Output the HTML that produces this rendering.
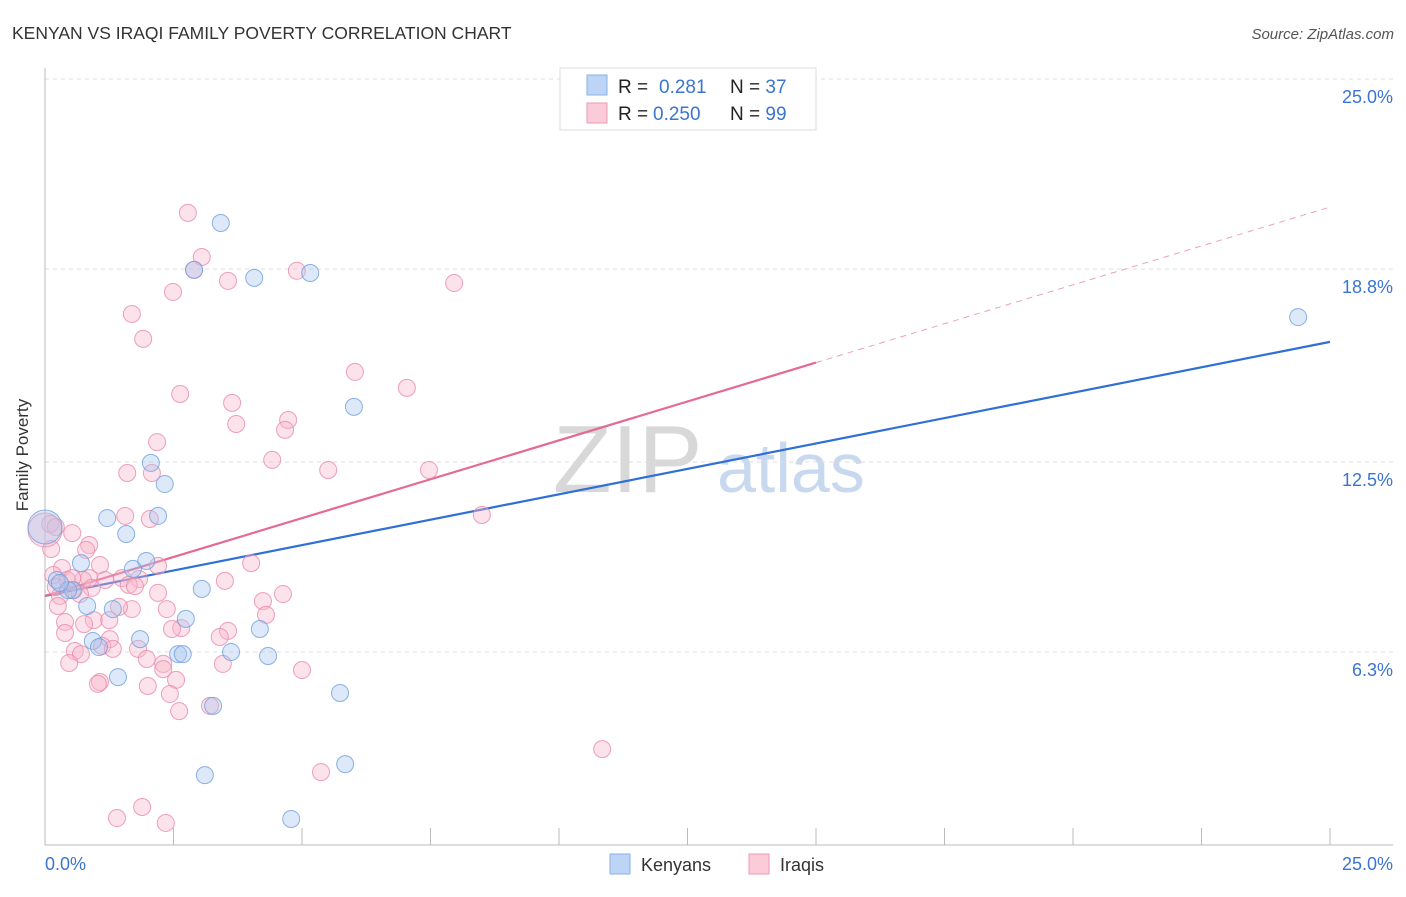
<!DOCTYPE html>
<html><head><meta charset="utf-8"><style>
body{margin:0;background:#fff;width:1406px;height:892px;overflow:hidden;font-family:"Liberation Sans",sans-serif}
svg text{font-family:"Liberation Sans",sans-serif}
</style></head><body>
<svg id="c" width="1406" height="892" xmlns="http://www.w3.org/2000/svg">
<text x="12" y="39" font-size="17.5" fill="#333">KENYAN VS IRAQI FAMILY POVERTY CORRELATION CHART</text>
<text x="1394" y="39" font-size="15" fill="#555" font-style="italic" text-anchor="end">Source: ZipAtlas.com</text>
<g>
<text x="553" y="492" font-size="96" font-family="Liberation Serif" fill="#d8d8d8">ZIP</text>
<text x="717" y="492" font-size="70" fill="#c8d9ef">atlas</text>
</g>
<g id="grid"></g>
<g id="axes"></g>
<g id="lines"></g>
<g id="pts"></g>
<text x="28" y="455" font-size="17" fill="#333" text-anchor="middle" transform="rotate(-90 28 455)">Family Poverty</text>
<g>
<rect x="560" y="68" width="256" height="62" fill="#fff" stroke="#ddd"/>
<rect x="587" y="75" width="20" height="20" fill="#bcd4f5" stroke="#8ab2e8"/>
<rect x="587" y="103" width="20" height="20" fill="#fbcbda" stroke="#ee9ab6"/>
<text x="618" y="93" font-size="19" fill="#222">R = <tspan x="659" fill="#3b74d1">0.281</tspan></text>
<text x="730" y="93" font-size="19" fill="#222">N = <tspan fill="#3b74d1">37</tspan></text>
<text x="618" y="120" font-size="19" fill="#222">R = <tspan x="653" fill="#3b74d1">0.250</tspan></text>
<text x="730" y="120" font-size="19" fill="#222">N = <tspan fill="#3b74d1">99</tspan></text>
</g>
<g>
<rect x="610" y="854" width="20" height="20" fill="#bcd4f5" stroke="#8ab2e8"/>
<text x="641" y="871" font-size="18" fill="#333">Kenyans</text>
<rect x="749" y="854" width="20" height="20" fill="#fbcbda" stroke="#ee9ab6"/>
<text x="780" y="871" font-size="18" fill="#333">Iraqis</text>
</g>
</svg>
<script>
const yTicks=[25.0,18.8,12.5,6.3];
const yTickLabels=["25.0%","18.8%","12.5%","6.3%"];
const xTickVals=[0,2.5,5,7.5,10,12.5,15,17.5,20,22.5,25];
const kenX=[3.42,4.07,5.16,2.90,24.38,6.01,2.06,2.33,1.21,2.20,1.58,0,0.70,1.97,1.71,0.23,0.54,3.05,0.82,1.32,2.74,1.85,4.18,0.93,1.05,2.59,2.68,3.62,4.34,1.42,5.74,3.27,3.11,5.84,4.79,0.45,0.29];
const kenY=[20.30,18.51,18.67,18.77,17.23,14.30,12.47,11.78,10.67,10.74,10.15,10.38,9.20,9.27,9.01,8.65,8.32,8.36,7.80,7.70,7.38,6.72,7.05,6.66,6.46,6.23,6.23,6.30,6.17,5.48,4.96,4.54,2.28,2.64,0.85,8.32,8.55];
const iraX=[2.78,3.05,2.90,2.49,3.56,4.90,7.96,1.69,1.91,6.03,7.04,2.63,3.64,4.73,3.72,4.67,2.18,4.42,5.51,7.47,1.60,2.08,8.50,1.56,2.04,0.10,0.21,0.53,0.86,0.12,0.80,4.01,0.33,1.07,2.20,0.16,0.86,1.50,1.83,0.43,0.74,1.17,1.63,3.50,0.91,0.56,1.75,0.68,0.29,2.20,4.63,4.24,0.25,1.69,1.44,2.37,4.30,0.95,0.39,1.25,0.76,2.65,2.47,3.56,0.39,3.40,1.26,1.11,0.58,0.70,1.81,1.32,1.98,2.30,2.30,0.47,3.46,5.00,2.55,1.07,1.03,2.00,2.43,3.21,2.61,10.84,5.37,1.89,1.40,2.35,0.53,0.21,0];
const iraY=[20.63,19.19,18.77,18.05,18.41,18.74,18.34,17.33,16.52,15.44,14.92,14.72,14.43,13.87,13.74,13.55,13.15,12.57,12.24,12.24,12.14,12.14,10.77,10.74,10.64,10.48,10.38,10.18,9.79,9.66,9.63,9.20,9.04,9.14,9.11,8.81,8.71,8.71,8.68,8.65,8.65,8.65,8.49,8.62,8.39,8.32,8.45,8.19,8.13,8.23,8.19,7.96,7.80,7.70,7.77,7.70,7.51,7.34,7.28,7.34,7.21,7.08,7.05,6.99,6.92,6.79,6.72,6.50,6.33,6.23,6.40,6.40,6.07,5.91,5.74,5.94,5.91,5.71,5.39,5.32,5.26,5.19,4.93,4.54,4.37,3.13,2.38,1.24,0.88,0.72,8.71,8.42,10.28];
const bigKen=[11];const bigIra=[92];
const kenFit=[8.13,16.42];
const iraFit=[8.13,20.82];
const iraSolidEnd=15.0;

const NS="http://www.w3.org/2000/svg";
const X0=45,X1=1330,Y0=845,Y25=79;
const sx=v=>X0+(v/25)*(X1-X0);
const sy=v=>Y0-(v/25)*(Y0-Y25);
function mk(tag,attrs,parent){const e=document.createElementNS(NS,tag);for(const k in attrs)e.setAttribute(k,attrs[k]);parent.appendChild(e);return e;}
const grid=document.getElementById('grid'),axes=document.getElementById('axes'),lines=document.getElementById('lines'),pts=document.getElementById('pts');
yTicks.forEach((t,i)=>{
 const l=mk('line',{x1:X0,x2:1393,y1:sy(t),y2:sy(t),stroke:'#ddd','stroke-dasharray':'4,4'},grid);
 
 
 const tx=mk('text',{x:1393,y:sy(t)+24,'font-size':18,fill:'#3b74d1','text-anchor':'end'},grid);
 tx.textContent=yTickLabels[i];
 
 
});
let a=mk('line',{x1:X0,x2:X0,y1:68,y2:Y0,stroke:'#bbb'},axes);


a=mk('line',{x1:X0,x2:1393,y1:Y0,y2:Y0,stroke:'#bbb'},axes);


xTickVals.forEach(v=>{
 const t=mk('line',{x1:sx(v),x2:sx(v),y1:828,y2:Y0,stroke:'#bbb'},axes);
 
 
});
let xl=mk('text',{x:45,y:870,'font-size':18,fill:'#3b74d1'},axes);xl.textContent='0.0%';


xl=mk('text',{x:1393,y:870,'font-size':18,fill:'#3b74d1','text-anchor':'end'},axes);xl.textContent='25.0%';


function drawPts(X,Y,big,fill,stroke,name){
 X.forEach((x,i)=>{
  const r=big.includes(i)?17:8.5;
  const c=mk('circle',{cx:sx(x),cy:sy(Y[i]),r:r,fill:fill,'fill-opacity':0.4,stroke:stroke,'stroke-opacity':0.8,'stroke-width':1},pts);
  
  
 });
}
drawPts(iraX,iraY,bigIra,'#f7b6cb','#e88aab','iraqis-point');
drawPts(kenX,kenY,bigKen,'#a9c6ee','#6f9fe0','kenyans-point');
const fy=(f,x)=>f[0]+(f[1]-f[0])*x/25;
let ln=mk('line',{x1:sx(0),y1:sy(fy(kenFit,0)),x2:sx(25),y2:sy(fy(kenFit,25)),stroke:'#2f6fd6','stroke-width':2.2},lines);


ln=mk('line',{x1:sx(0),y1:sy(fy(iraFit,0)),x2:sx(iraSolidEnd),y2:sy(fy(iraFit,iraSolidEnd)),stroke:'#e46a95','stroke-width':2.2},lines);


ln=mk('line',{x1:sx(iraSolidEnd),y1:sy(fy(iraFit,iraSolidEnd)),x2:sx(25),y2:sy(fy(iraFit,25)),stroke:'#eaa0ba','stroke-width':1,'stroke-dasharray':'6,5'},lines);


</script>
</body></html>
